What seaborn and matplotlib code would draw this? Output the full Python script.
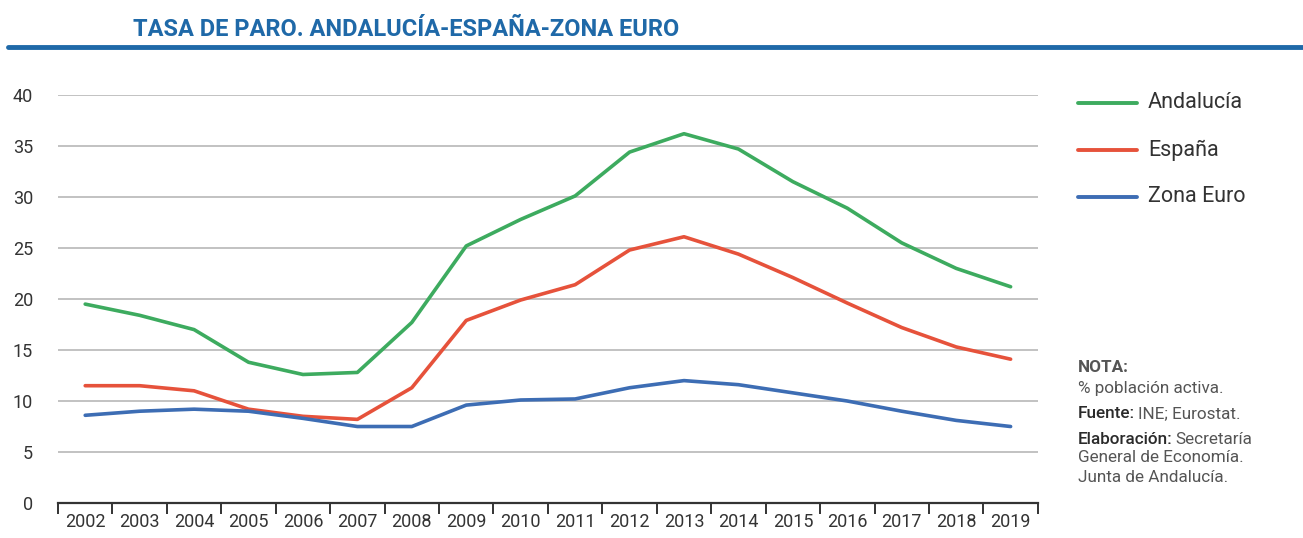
import matplotlib
matplotlib.use("Agg")
import matplotlib.pyplot as plt
import seaborn as sns
import pandas as pd
from matplotlib.lines import Line2D

years = list(range(2002, 2020))
andalucia = [19.5, 18.4, 17.0, 13.8, 12.6, 12.8, 17.7, 25.2, 27.8, 30.1, 34.4, 36.2, 34.7, 31.5, 28.9, 25.5, 23.0, 21.2]
espana = [11.5, 11.5, 11.0, 9.2, 8.5, 8.2, 11.3, 17.9, 19.9, 21.4, 24.8, 26.1, 24.4, 22.1, 19.6, 17.2, 15.3, 14.1]
zona_euro = [8.6, 9.0, 9.2, 9.0, 8.3, 7.5, 7.5, 9.6, 10.1, 10.2, 11.3, 12.0, 11.6, 10.8, 10.0, 9.0, 8.1, 7.5]
series_names = ["Andalucía", "España", "Zona Euro"]
colors = ["#3dab5f", "#e6523b", "#3d6db4"]
title = "TASA DE PARO. ANDALUCÍA-ESPAÑA-ZONA EURO"

sns.set_theme(style="white")
plt.rcParams['font.family'] = ['Roboto', 'DejaVu Sans']

df = pd.DataFrame({
    "year": years * 3,
    "value": andalucia + espana + zona_euro,
    "serie": [series_names[0]] * 18 + [series_names[1]] * 18 + [series_names[2]] * 18,
})

fig = plt.figure(figsize=(13.03, 5.38), dpi=100)
ax = fig.add_axes([0.0445, 0.065, 0.752, 0.7585])
sns.lineplot(data=df, x="year", y="value", hue="serie", palette=colors,
             linewidth=2.6, ax=ax, legend=False)

ax.set_xlim(2001.5, 2019.5)
ax.set_ylim(0, 40)
ax.set_yticks(range(0, 41, 5))
ax.yaxis.grid(True, color="#bdbdbd", linewidth=1.3)
ax.set_axisbelow(True)
for s in ["top", "right", "left"]:
    ax.spines[s].set_visible(False)
ax.spines["bottom"].set_color("#333333")
ax.spines["bottom"].set_linewidth(1.6)

ax.set_xticks([y - 0.5 for y in years] + [2019.5])
ax.set_xticklabels([])
ax.tick_params(axis="x", which="major", length=8, width=1.4, color="#333333", direction="out", bottom=True)
ax.set_xticks(years, minor=True)
ax.set_xticklabels([str(y) for y in years], minor=True, fontsize=13, color="#333333")
ax.tick_params(axis="x", which="minor", length=0, pad=7)
ax.tick_params(axis="y", length=0, pad=18, labelsize=13, labelcolor="#333333")
ax.set_xlabel("")
ax.set_ylabel("")

# Title and rule
fig.text(133 / 1303, 1 - 29 / 538, title, fontsize=17, fontweight="bold",
         color="#1f69a8", va="center", ha="left")
fig.add_artist(Line2D([8 / 1303, 1.0], [1 - 47 / 538, 1 - 47 / 538],
                      color="#1f69a8", linewidth=3.5, transform=fig.transFigure))

# Legend
for i, (name, c) in enumerate(zip(series_names, colors)):
    yy = 1 - (103 + 47 * i) / 538
    fig.add_artist(Line2D([1078 / 1303, 1137 / 1303], [yy, yy], color=c,
                          linewidth=2.8, transform=fig.transFigure))
    fig.text(1148 / 1303, yy, name, fontsize=15.5, color="#333333", va="center", ha="left")

# Notes
gray = "#555555"
fs = 12.3
fig.text(1078 / 1303, 1 - 368 / 538, "NOTA:", fontsize=fs, fontweight="bold", color=gray, va="center")
fig.text(1078 / 1303, 1 - 388 / 538, "% población activa.", fontsize=fs, color=gray, va="center")

fig.canvas.draw()
renderer = fig.canvas.get_renderer()

def mixed(y_px, bold, rest):
    t = fig.text(1078 / 1303, 1 - y_px / 538, bold, fontsize=fs, fontweight="medium",
                 color="#2a2a2a", va="center")
    bb = t.get_window_extent(renderer=renderer)
    x1 = (bb.x1 + 3) / fig.bbox.width
    fig.text(x1, 1 - y_px / 538, rest, fontsize=fs, color=gray, va="center")

mixed(414, "Fuente:", "INE; Eurostat.")
mixed(440, "Elaboración:", "Secretaría")
fig.text(1078 / 1303, 1 - 458 / 538, "General de Economía.", fontsize=fs, color=gray, va="center")
fig.text(1078 / 1303, 1 - 477 / 538, "Junta de Andalucía.", fontsize=fs, color=gray, va="center")

fig.savefig("out.png", dpi=100)
